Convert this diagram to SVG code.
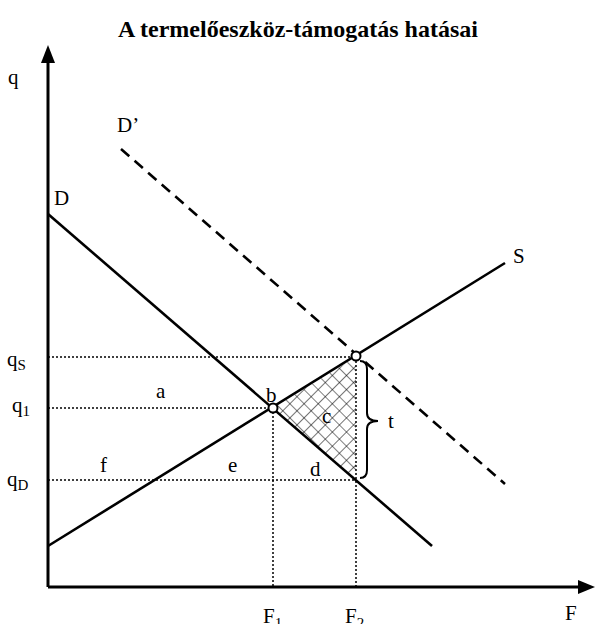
<svg xmlns="http://www.w3.org/2000/svg" width="596" height="624" viewBox="0 0 596 624">
<style>
text{font-family:"Liberation Serif","Times New Roman",serif;font-size:21px;fill:#000}
.title{font-weight:bold;font-size:24px}
.sub{font-size:15px}
.ax{stroke:#000;stroke-width:3;fill:none}
.ln{stroke:#000;stroke-width:2.6;fill:none}
.dash{stroke:#000;stroke-width:2.6;fill:none;stroke-dasharray:11 7}
.dot{stroke:#000;stroke-width:1.5;fill:none;stroke-dasharray:2 2}
.pt{fill:#fff;stroke:#000;stroke-width:2}
</style>
<defs>
<pattern id="hatch" width="10" height="10" patternUnits="userSpaceOnUse" patternTransform="rotate(45)">
<path d="M0 0H10M0 0V10" stroke="#000" stroke-width="1.1"/>
</pattern>
</defs>
<text class="title" x="298" y="37" text-anchor="middle">A termelőeszköz-támogatás hatásai</text>
<g id="axes">
<path class="ax" d="M48 587V60M48 587H580"/>
<polygon points="48,45 41,63 55,63"/>
<polygon points="595,587 578,580 578,594"/>
<text x="8" y="84">q</text>
<text x="565" y="620">F</text>
</g>
<g id="area-c">
<polygon points="273,408 356,357 356,480" fill="url(#hatch)"/>
</g>
<g id="connectors">
<path class="dot" d="M48 357H356M48 408H273M48 480H356M273 408V587M356 357V587"/>
<path id="D" class="ln" d="M48 214L432 546"/>
<path id="S" class="ln" d="M48 546L505 263"/>
<path id="Dprime" class="dash" d="M121 149L505 484"/>
<path id="brace" d="M360 361Q367 361 367 369V413Q367 421 378 421Q367 421 367 429V470Q367 478 360 478" fill="none" stroke="#000" stroke-width="2"/>
</g>
<g id="points">
<circle class="pt" cx="273" cy="408" r="4.5"/>
<circle class="pt" cx="356" cy="356" r="4.5"/>
</g>
<g id="labels">
<text x="54" y="205">D</text>
<text x="117" y="132">D’</text>
<text x="513" y="263">S</text>
<text x="7" y="366">q<tspan class="sub" dy="4">S</tspan></text>
<text x="12" y="412">q<tspan class="sub" dy="4">1</tspan></text>
<text x="7" y="486">q<tspan class="sub" dy="4">D</tspan></text>
<text x="263" y="623">F<tspan class="sub" dy="5">1</tspan></text>
<text x="345" y="623">F<tspan class="sub" dy="5">2</tspan></text>
<text x="156" y="398">a</text>
<text x="266" y="402">b</text>
<text x="322" y="423">c</text>
<text x="310" y="476">d</text>
<text x="228" y="472">e</text>
<text x="100" y="472">f</text>
<text x="388" y="428">t</text>
</g>
</svg>
